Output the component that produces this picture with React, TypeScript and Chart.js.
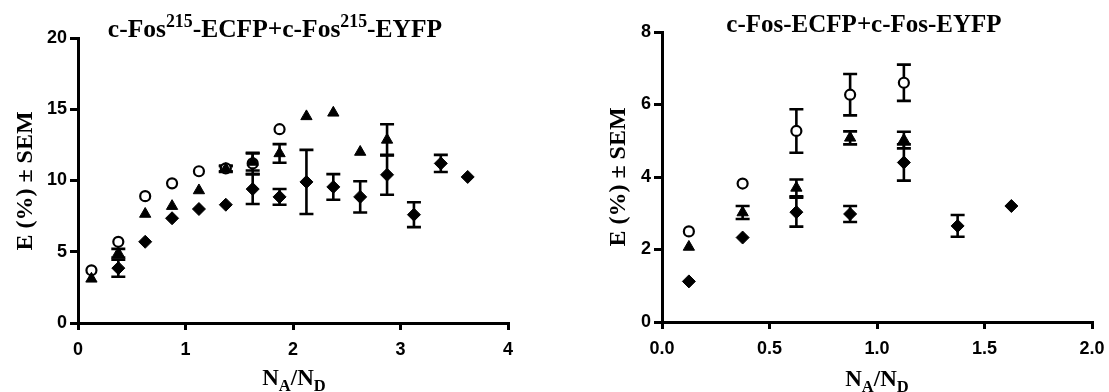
import React, { useEffect, useRef } from "react";
import { Chart, registerables } from "chart.js";
Chart.register(...registerables);

// ---------- Left panel data ----------
const leftX = [0.125, 0.375, 0.625, 0.875, 1.125, 1.375, 1.625, 1.875, 2.125, 2.375, 2.625, 2.875, 3.125, 3.375, 3.625];
const leftCircle = [3.7, 5.7, 8.9, 9.8, 10.65, 10.85, 11.2, 13.6, null, null, null, null, null, null, null];
const leftCircleSem = [0, 0, 0, 0, 0, 0.2, 0.75, 0, 0, 0, 0, 0, 0, 0, 0];
const leftTriangle = [3.1, 4.9, 7.65, 8.2, 9.3, 10.8, 11.3, 11.9, 14.5, 14.75, 12.0, 12.85, null, null, null];
const leftTriangleSem = [0, 0.3, 0, 0, 0, 0.2, 0.6, 0.65, 0, 0, 0, 1.1, 0, 0, 0];
const leftDiamond = [null, 3.85, 5.7, 7.35, 8.0, 8.3, 9.4, 8.85, 9.9, 9.55, 8.85, 10.4, 7.6, 11.2, 10.25];
const leftDiamondSem = [0, 0.6, 0, 0, 0, 0, 1.05, 0.55, 2.25, 0.9, 1.1, 1.4, 0.875, 0.6, 0];
const leftXTicks = [0, 1, 2, 3, 4];
const leftYTicks = [0, 5, 10, 15, 20];

// ---------- Right panel data ----------
const rightX = [0.125, 0.375, 0.625, 0.875, 1.125, 1.375, 1.625];
const rightCircle = [2.5, 3.82, 5.27, 6.27, 6.6, null, null];
const rightCircleSem = [0, 0, 0.6, 0.57, 0.5, 0, 0];
const rightTriangle = [2.07, 3.02, 3.7, 5.08, 5.02, null, null];
const rightTriangleSem = [0, 0.18, 0.23, 0.18, 0.23, 0, 0];
const rightDiamond = [1.12, 2.33, 3.03, 2.98, 4.4, 2.65, 3.2];
const rightDiamondSem = [0, 0, 0.4, 0.22, 0.5, 0.3, 0];
const rightXTicks = [0, 0.5, 1.0, 1.5, 2.0];
const rightYTicks = [0, 2, 4, 6, 8];

type Seg = { t: string; s?: "sup" | "sub" };
const leftTitle: Seg[] = [
  { t: "c-Fos" }, { t: "215", s: "sup" }, { t: "-ECFP+c-Fos" }, { t: "215", s: "sup" }, { t: "-EYFP" },
];
const rightTitle: Seg[] = [{ t: "c-Fos-ECFP+c-Fos-EYFP" }];
const xTitle: Seg[] = [{ t: "N" }, { t: "A", s: "sub" }, { t: "/N" }, { t: "D", s: "sub" }];
const yTitle: Seg[] = [{ t: "E (%) \u00B1 SEM" }];

const SERIF = "'Liberation Serif', 'Times New Roman', serif";
const SANS = "'Liberation Sans', Arial, sans-serif";

function drawRich(ctx: CanvasRenderingContext2D, segs: Seg[], x: number, y: number, size: number, ratio: number, rotate = false) {
  ctx.save();
  ctx.translate(x, y);
  if (rotate) ctx.rotate(-Math.PI / 2);
  ctx.fillStyle = "#000";
  ctx.textBaseline = "alphabetic";
  ctx.textAlign = "left";
  const font = (s: number) => `bold ${s}px ${SERIF}`;
  const sizes = segs.map((g) => (g.s ? size * ratio : size));
  let total = 0;
  segs.forEach((g, i) => {
    ctx.font = font(sizes[i]);
    total += ctx.measureText(g.t).width;
  });
  let cx = -total / 2;
  segs.forEach((g, i) => {
    ctx.font = font(sizes[i]);
    const dy = g.s === "sup" ? -size * 0.4 : g.s === "sub" ? size * 0.26 : 0;
    ctx.fillText(g.t, cx, dy);
    cx += ctx.measureText(g.t).width;
  });
  ctx.restore();
}

type PanelCfg = {
  xs: number[];
  circle: (number | null)[]; circleSem: number[];
  triangle: (number | null)[]; triangleSem: number[];
  diamond: (number | null)[]; diamondSem: number[];
  xTicks: number[]; yTicks: number[];
  xDecimals: number;
  title: Seg[]; titleSize: number;
  width: number;
  yAxisWidth: number; xAxisHeight: number; padTop: number; padRight: number;
  titlePos: [number, number]; yTitlePos: [number, number]; xTitlePos: [number, number];
};

function pts(xs: number[], ys: (number | null)[]) {
  const out: { x: number; y: number }[] = [];
  xs.forEach((x, i) => { const y = ys[i]; if (y !== null && y !== undefined) out.push({ x, y }); });
  return out;
}

function Panel({ cfg, left }: { cfg: PanelCfg; left: number }) {
  const ref = useRef<HTMLCanvasElement>(null);
  useEffect(() => {
    if (!ref.current) return;
    const sets = [
      { pts: pts(cfg.xs, cfg.diamond), sem: cfg.diamondSem, ys: cfg.diamond, style: "rectRot", r: 6.5, bg: "#000", bw: 1 },
      { pts: pts(cfg.xs, cfg.triangle), sem: cfg.triangleSem, ys: cfg.triangle, style: "triangle", r: 6.5, bg: "#000", bw: 1 },
      { pts: pts(cfg.xs, cfg.circle), sem: cfg.circleSem, ys: cfg.circle, style: "circle", r: 5, bg: "#fff", bw: 2.2 },
    ];
    const errPlugin = {
      id: "errbars",
      beforeDatasetsDraw(chart: any) {
        const ctx = chart.ctx as CanvasRenderingContext2D;
        const xs = chart.scales.x, ys = chart.scales.y;
        ctx.save();
        ctx.strokeStyle = "#000";
        ctx.lineWidth = 2.6;
        sets.forEach((s) => {
          cfg.xs.forEach((x, i) => {
            const v = s.ys[i];
            const e = s.sem[i];
            if (v === null || v === undefined || !e) return;
            const px = xs.getPixelForValue(x);
            const top = ys.getPixelForValue(v + e);
            const bot = ys.getPixelForValue(v - e);
            ctx.beginPath();
            ctx.moveTo(px, top); ctx.lineTo(px, bot);
            ctx.moveTo(px - 7, top); ctx.lineTo(px + 7, top);
            ctx.moveTo(px - 7, bot); ctx.lineTo(px + 7, bot);
            ctx.stroke();
          });
        });
        ctx.restore();
      },
    };
    const textPlugin = {
      id: "texts",
      afterDraw(chart: any) {
        const ctx = chart.ctx as CanvasRenderingContext2D;
        drawRich(ctx, cfg.title, cfg.titlePos[0], cfg.titlePos[1], cfg.titleSize, 0.7);
        drawRich(ctx, xTitle, cfg.xTitlePos[0], cfg.xTitlePos[1], 23, 0.72);
        drawRich(ctx, yTitle, cfg.yTitlePos[0], cfg.yTitlePos[1], 24, 0.7, true);
      },
    };
    const tickFont = { family: SANS, size: 18, weight: "bold" as const };
    const chart = new Chart(ref.current, {
      type: "scatter",
      data: {
        datasets: sets.map((s) => ({
          data: s.pts,
          pointStyle: s.style as any,
          pointRadius: s.r,
          pointHoverRadius: s.r,
          backgroundColor: s.bg,
          borderColor: "#000",
          pointBorderWidth: s.bw,
          showLine: false,
        })),
      },
      options: {
        animation: false,
        responsive: false,
        events: [],
        layout: { padding: { top: cfg.padTop, right: cfg.padRight, left: 0, bottom: 0 } },
        plugins: { legend: { display: false }, tooltip: { enabled: false }, title: { display: false } },
        scales: {
          x: {
            type: "linear",
            min: cfg.xTicks[0],
            max: cfg.xTicks[cfg.xTicks.length - 1],
            afterBuildTicks: (s: any) => { s.ticks = cfg.xTicks.map((v) => ({ value: v })); },
            afterFit: (s: any) => { s.height = cfg.xAxisHeight; s.paddingLeft = 0; s.paddingRight = 0; },
            ticks: {
              color: "#000", font: tickFont, padding: 9, maxRotation: 0,
              callback: (v: any) => Number(v).toFixed(cfg.xDecimals),
            },
            grid: { drawOnChartArea: false, drawTicks: true, tickLength: 7, lineWidth: 3, color: "#000" },
            border: { color: "#000", width: 3 },
          },
          y: {
            type: "linear",
            min: cfg.yTicks[0],
            max: cfg.yTicks[cfg.yTicks.length - 1],
            afterBuildTicks: (s: any) => { s.ticks = cfg.yTicks.map((v) => ({ value: v })); },
            afterFit: (s: any) => { s.width = cfg.yAxisWidth; s.paddingTop = 0; s.paddingBottom = 0; },
            ticks: { color: "#000", font: tickFont, padding: 3 },
            grid: { drawOnChartArea: false, drawTicks: true, tickLength: 8, lineWidth: 3, color: "#000" },
            border: { color: "#000", width: 3 },
          },
        },
      },
      plugins: [errPlugin, textPlugin],
    });
    return () => chart.destroy();
  }, []);
  return (
    <canvas
      ref={ref}
      width={cfg.width}
      height={392}
      style={{ position: "absolute", left, top: 0, width: cfg.width, height: 392 }}
    />
  );
}

const leftCfg: PanelCfg = {
  xs: leftX,
  circle: leftCircle, circleSem: leftCircleSem,
  triangle: leftTriangle, triangleSem: leftTriangleSem,
  diamond: leftDiamond, diamondSem: leftDiamondSem,
  xTicks: leftXTicks, yTicks: leftYTicks, xDecimals: 0,
  title: leftTitle, titleSize: 25.5,
  width: 554,
  yAxisWidth: 78, xAxisHeight: 69, padTop: 38, padRight: 46,
  titlePos: [275, 37], yTitlePos: [32, 181], xTitlePos: [294, 385],
};

const rightCfg: PanelCfg = {
  xs: rightX,
  circle: rightCircle, circleSem: rightCircleSem,
  triangle: rightTriangle, triangleSem: rightTriangleSem,
  diamond: rightDiamond, diamondSem: rightDiamondSem,
  xTicks: rightXTicks, yTicks: rightYTicks, xDecimals: 1,
  title: rightTitle, titleSize: 25,
  width: 555,
  yAxisWidth: 108, xAxisHeight: 70, padTop: 32, padRight: 17,
  titlePos: [310, 32], yTitlePos: [71, 177], xTitlePos: [323, 386],
};

export default function App() {
  return (
    <div style={{ position: "absolute", left: 0, top: 0, width: 1109, height: 392, background: "#fff", overflow: "hidden" }}>
      <Panel cfg={leftCfg} left={0} />
      <Panel cfg={rightCfg} left={554} />
    </div>
  );
}
